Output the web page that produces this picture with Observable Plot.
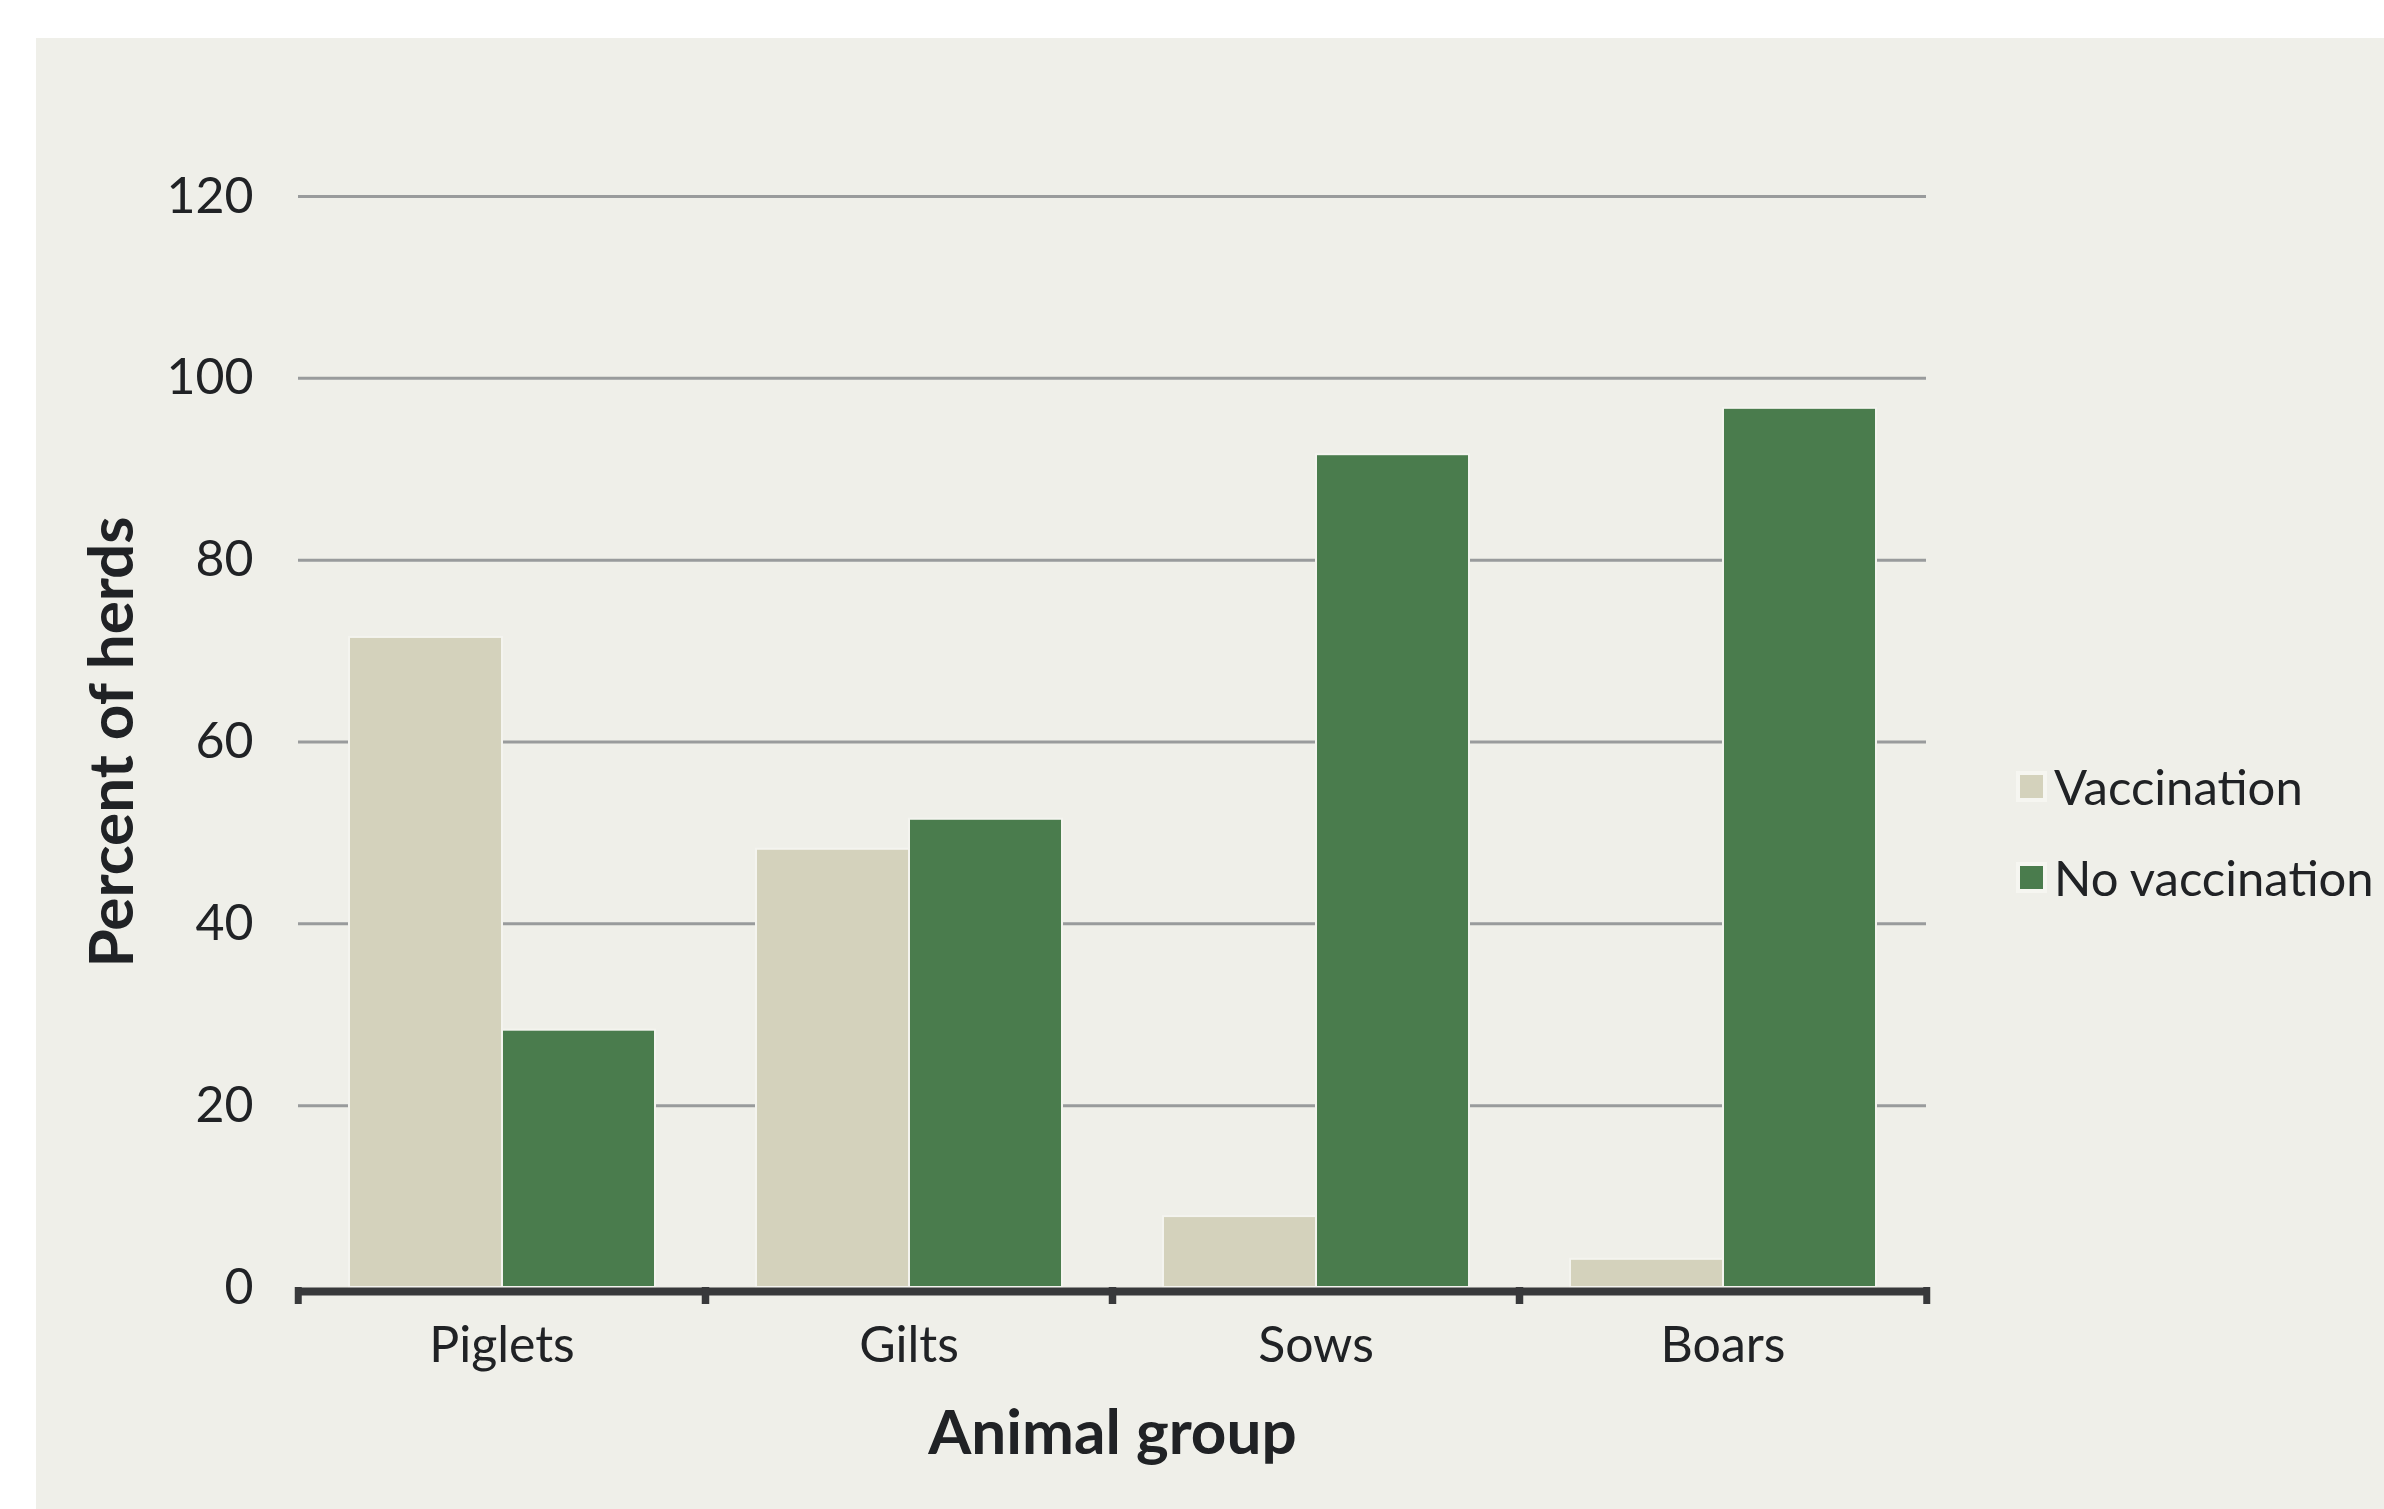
<!DOCTYPE html>
<html>
<head>
<meta charset="utf-8">
<script src="https://cdn.jsdelivr.net/npm/d3@7"></script>
<script src="https://cdn.jsdelivr.net/npm/@observablehq/plot@0.6"></script>
<style>
  html, body { margin: 0; padding: 0; background: #ffffff; }
  #wrap { position: relative; width: 2384px; height: 1509px; overflow: hidden; }
  #panel { position: absolute; left: 36px; top: 38px; width: 2348px; height: 1471px; background: #efefe9; }
  #chart { position: absolute; left: 0; top: 0; }
  #legend { position: absolute; left: 2018px; top: 741px; width: 400px; }
  .lg-swatches { font-family: Lato, "Open Sans", sans-serif !important; font-size: 49px !important; color: #202225; margin: 0 !important; }
  .lg-swatch { line-height: 90px; padding-bottom: 1px; }
  .lg-swatch > svg { margin-right: 9px !important; }
  .lg-swatch > svg rect { stroke: #f6f6f1; stroke-width: 4px; }
  .lg-swatch-label { overflow: visible !important; }
</style>
</head>
<body>
<div id="wrap">
  <div id="panel"></div>
  <div id="chart"></div>
  <div id="legend"></div>
</div>
<script>
// ---- data ----
const groups = ["Piglets", "Gilts", "Sows", "Boars"];
const series = ["Vaccination", "No vaccination"];
const vaccination = [71.5, 48.2, 7.8, 3.1];
const noVaccination = [28.3, 51.5, 91.6, 96.7];
const yTicks = [0, 20, 40, 60, 80, 100, 120];
const colors = ["#d4d2bc", "#4a7c4d"];

const data = [];
groups.forEach((g, i) => {
  data.push({group: g, series: series[0], value: vaccination[i]});
  data.push({group: g, series: series[1], value: noVaccination[i]});
});

const W = 2384, H = 1509;
const mL = 297, mR = 457, mT = 196, mB = 222;
const step = (W - mL - mR) / groups.length;
const ink = "#202225";
const axisDark = "#38393b";

const chart = Plot.plot({
  width: W,
  height: H,
  marginLeft: mL,
  marginRight: mR,
  marginTop: mT,
  marginBottom: mB,
  style: {background: "transparent", fontFamily: "Lato, 'Open Sans', sans-serif", fontSize: "50px", color: ink},
  fx: {domain: groups, padding: 0, axis: null, label: null},
  x: {domain: series, paddingInner: 0, paddingOuter: 0.323, axis: null, label: null},
  y: {domain: [0, 120], axis: null, label: null},
  color: {domain: series, range: colors},
  marks: [
    Plot.gridY(yTicks.filter(d => d > 0), {stroke: "#999b9c", strokeOpacity: 1, strokeWidth: 3}),
    Plot.barY(data, {fx: "group", x: "series", y: "value", fill: "series", stroke: "#f4f4ef", strokeWidth: 2}),
    Plot.ruleY([0], {stroke: axisDark, strokeWidth: 8, dy: 4}),
    Plot.axisFx({anchor: "bottom", tickSize: 17, dx: -step / 2, stroke: axisDark, strokeWidth: 7, fill: "none", label: null}),
    Plot.axisFx({anchor: "bottom", tickSize: 17, dx: step / 2, stroke: axisDark, strokeWidth: 7, fill: "none", label: null}),
    Plot.axisFx({anchor: "bottom", tickSize: 0, tickPadding: 39, fontSize: 50, fill: ink, label: null}),
    Plot.axisFx([], {anchor: "bottom", tickSize: 0, label: "Animal group", labelAnchor: "center", labelOffset: 166, labelArrow: "none", fontSize: 62, fontWeight: "bold", fill: ink}),
    Plot.axisY(yTicks, {anchor: "left", tickSize: 0, tickPadding: 45, fontSize: 50, fill: ink, label: null}),
    Plot.axisY([], {anchor: "left", tickSize: 0, label: "Percent of herds", labelAnchor: "center", labelOffset: 210, labelArrow: "none", fontSize: 62, fontWeight: "bold", fill: ink})
  ]
});
document.getElementById("chart").appendChild(chart);

const legend = Plot.legend({
  color: {type: "ordinal", domain: series, range: colors},
  legend: "swatches",
  columns: 1,
  swatchSize: 27,
  className: "lg"
});
document.getElementById("legend").appendChild(legend);
</script>
</body>
</html>
